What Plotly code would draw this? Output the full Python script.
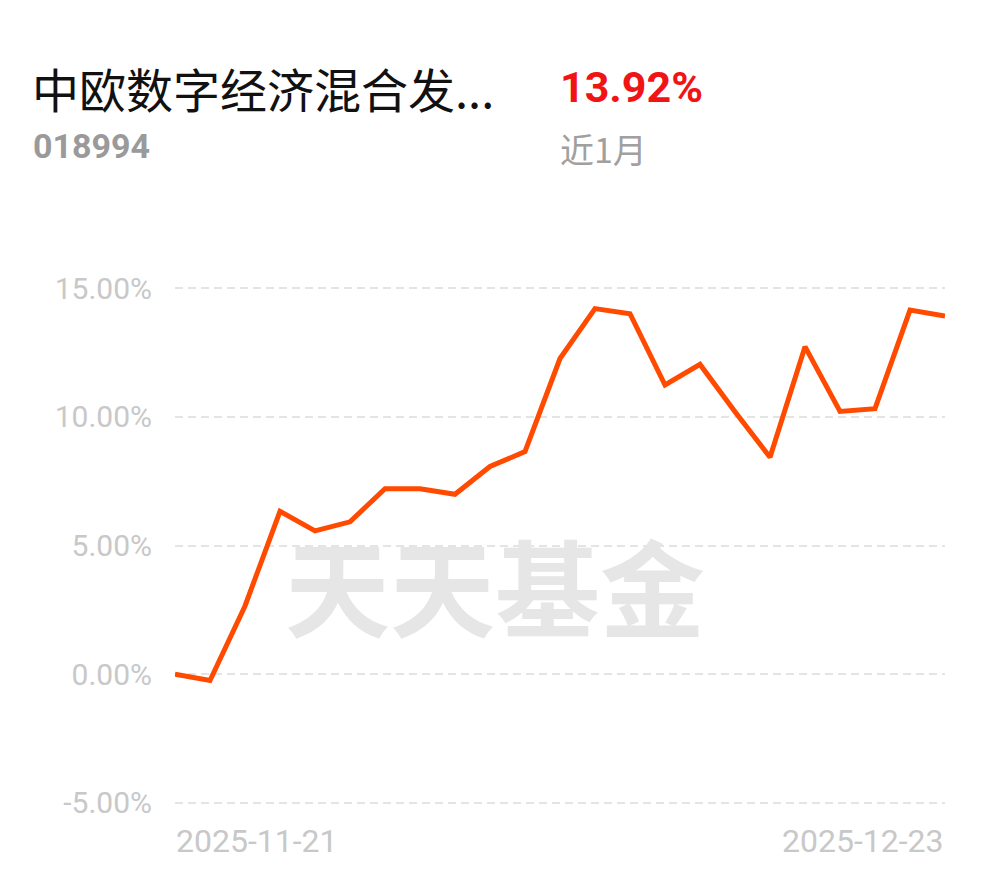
import plotly.graph_objects as go

# ---- data ----
dates = ["2025-11-21", "2025-11-24", "2025-11-25", "2025-11-26", "2025-11-27", "2025-11-28",
         "2025-12-01", "2025-12-02", "2025-12-03", "2025-12-04", "2025-12-05",
         "2025-12-08", "2025-12-09", "2025-12-10", "2025-12-11", "2025-12-12",
         "2025-12-15", "2025-12-16", "2025-12-17", "2025-12-18", "2025-12-19",
         "2025-12-22", "2025-12-23"]
returns = [0.00, -0.25, 2.65, 6.33, 5.57, 5.92, 7.21, 7.21, 6.99, 8.07, 8.65,
           12.27, 14.21, 14.01, 11.24, 12.04, 10.20, 8.43, 12.73, 10.21, 10.32,
           14.15, 13.92]
y_ticks = [-5, 0, 5, 10, 15]
y_tick_labels = ["-5.00%", "0.00%", "5.00%", "10.00%", "15.00%"]
x_tick_labels = ["2025-11-21", "2025-12-23"]
fund_name = "中欧数字经济混合发..."
fund_code = "018994"
period_return = "13.92%"
period_label = "近1月"
watermark = "天天基金"

OFF = 8                      # page body margin
W, H = 990 - OFF, 878 - OFF
# plot area in screen pixels (grid -5% .. 15%)
GL, GR, GT, GB = 175, 945, 288, 803
YMIN, YMAX, YPAD = -5.0, 15.0, 0.4
ppu = (GB - GT) / (YMAX - YMIN)
L = GL - OFF
R = GR - OFF
T = GT - OFF - YPAD * ppu
B = GB - OFF + YPAD * ppu


def px(x):
    return (x - OFF - L) / (R - L)


def py(y):
    return (B - (y - OFF)) / (B - T)


fig = go.Figure()
fig.add_trace(go.Scatter(
    x=dates, y=returns, mode="lines",
    line=dict(color="#FF4A00", width=5, shape="linear"),
    hoverinfo="skip", showlegend=False,
))

annotations = [
    dict(text=watermark, x=px(495), y=py(583), xanchor="center", yanchor="middle",
         font=dict(family="Noto Sans CJK SC", size=105, color="#e6e6e6", weight="bold")),
    dict(text=fund_name, x=px(30), y=py(87), xanchor="left", yanchor="middle",
         font=dict(family="Noto Sans CJK SC", size=47, color="#111111")),
    dict(text=fund_code, x=px(31), y=py(146), xanchor="left", yanchor="middle",
         font=dict(family="Roboto", size=34, color="#9a9a9a", weight="bold")),
    dict(text=period_return, x=px(558), y=py(86), xanchor="left", yanchor="middle",
         font=dict(family="Roboto", size=43, color="#f01414", weight="bold")),
    dict(text=period_label, x=px(558), y=py(148), xanchor="left", yanchor="middle",
         font=dict(family="Noto Sans CJK SC", size=34, color="#a0a0a0")),
    dict(text=x_tick_labels[0], x=px(GL - 1), y=py(841), xanchor="left", yanchor="middle",
         font=dict(family="Roboto", size=32, color="#c8c8c8")),
    dict(text=x_tick_labels[1], x=px(GR + 1), y=py(841), xanchor="right", yanchor="middle",
         font=dict(family="Roboto", size=32, color="#c8c8c8")),
]
for a in annotations:
    a.update(xref="paper", yref="paper", showarrow=False)

fig.update_layout(
    width=W, height=H,
    margin=dict(l=L, r=W - R, t=T, b=H - B, pad=0),
    paper_bgcolor="white", plot_bgcolor="white",
    annotations=annotations,
    xaxis=dict(type="category", range=[0, len(dates) - 1], showgrid=False,
               showticklabels=False, zeroline=False, showline=False, ticks=""),
    yaxis=dict(range=[YMIN - YPAD, YMAX + YPAD], tickvals=y_ticks, ticktext=y_tick_labels,
               showgrid=True, gridcolor="#e4e4e4", gridwidth=2, griddash="8px,5px",
               zeroline=False, showline=False, ticks="", ticklabelstandoff=22,
               tickfont=dict(family="Roboto", size=30, color="#c8c8c8")),
)

fig.write_html("out.html")
